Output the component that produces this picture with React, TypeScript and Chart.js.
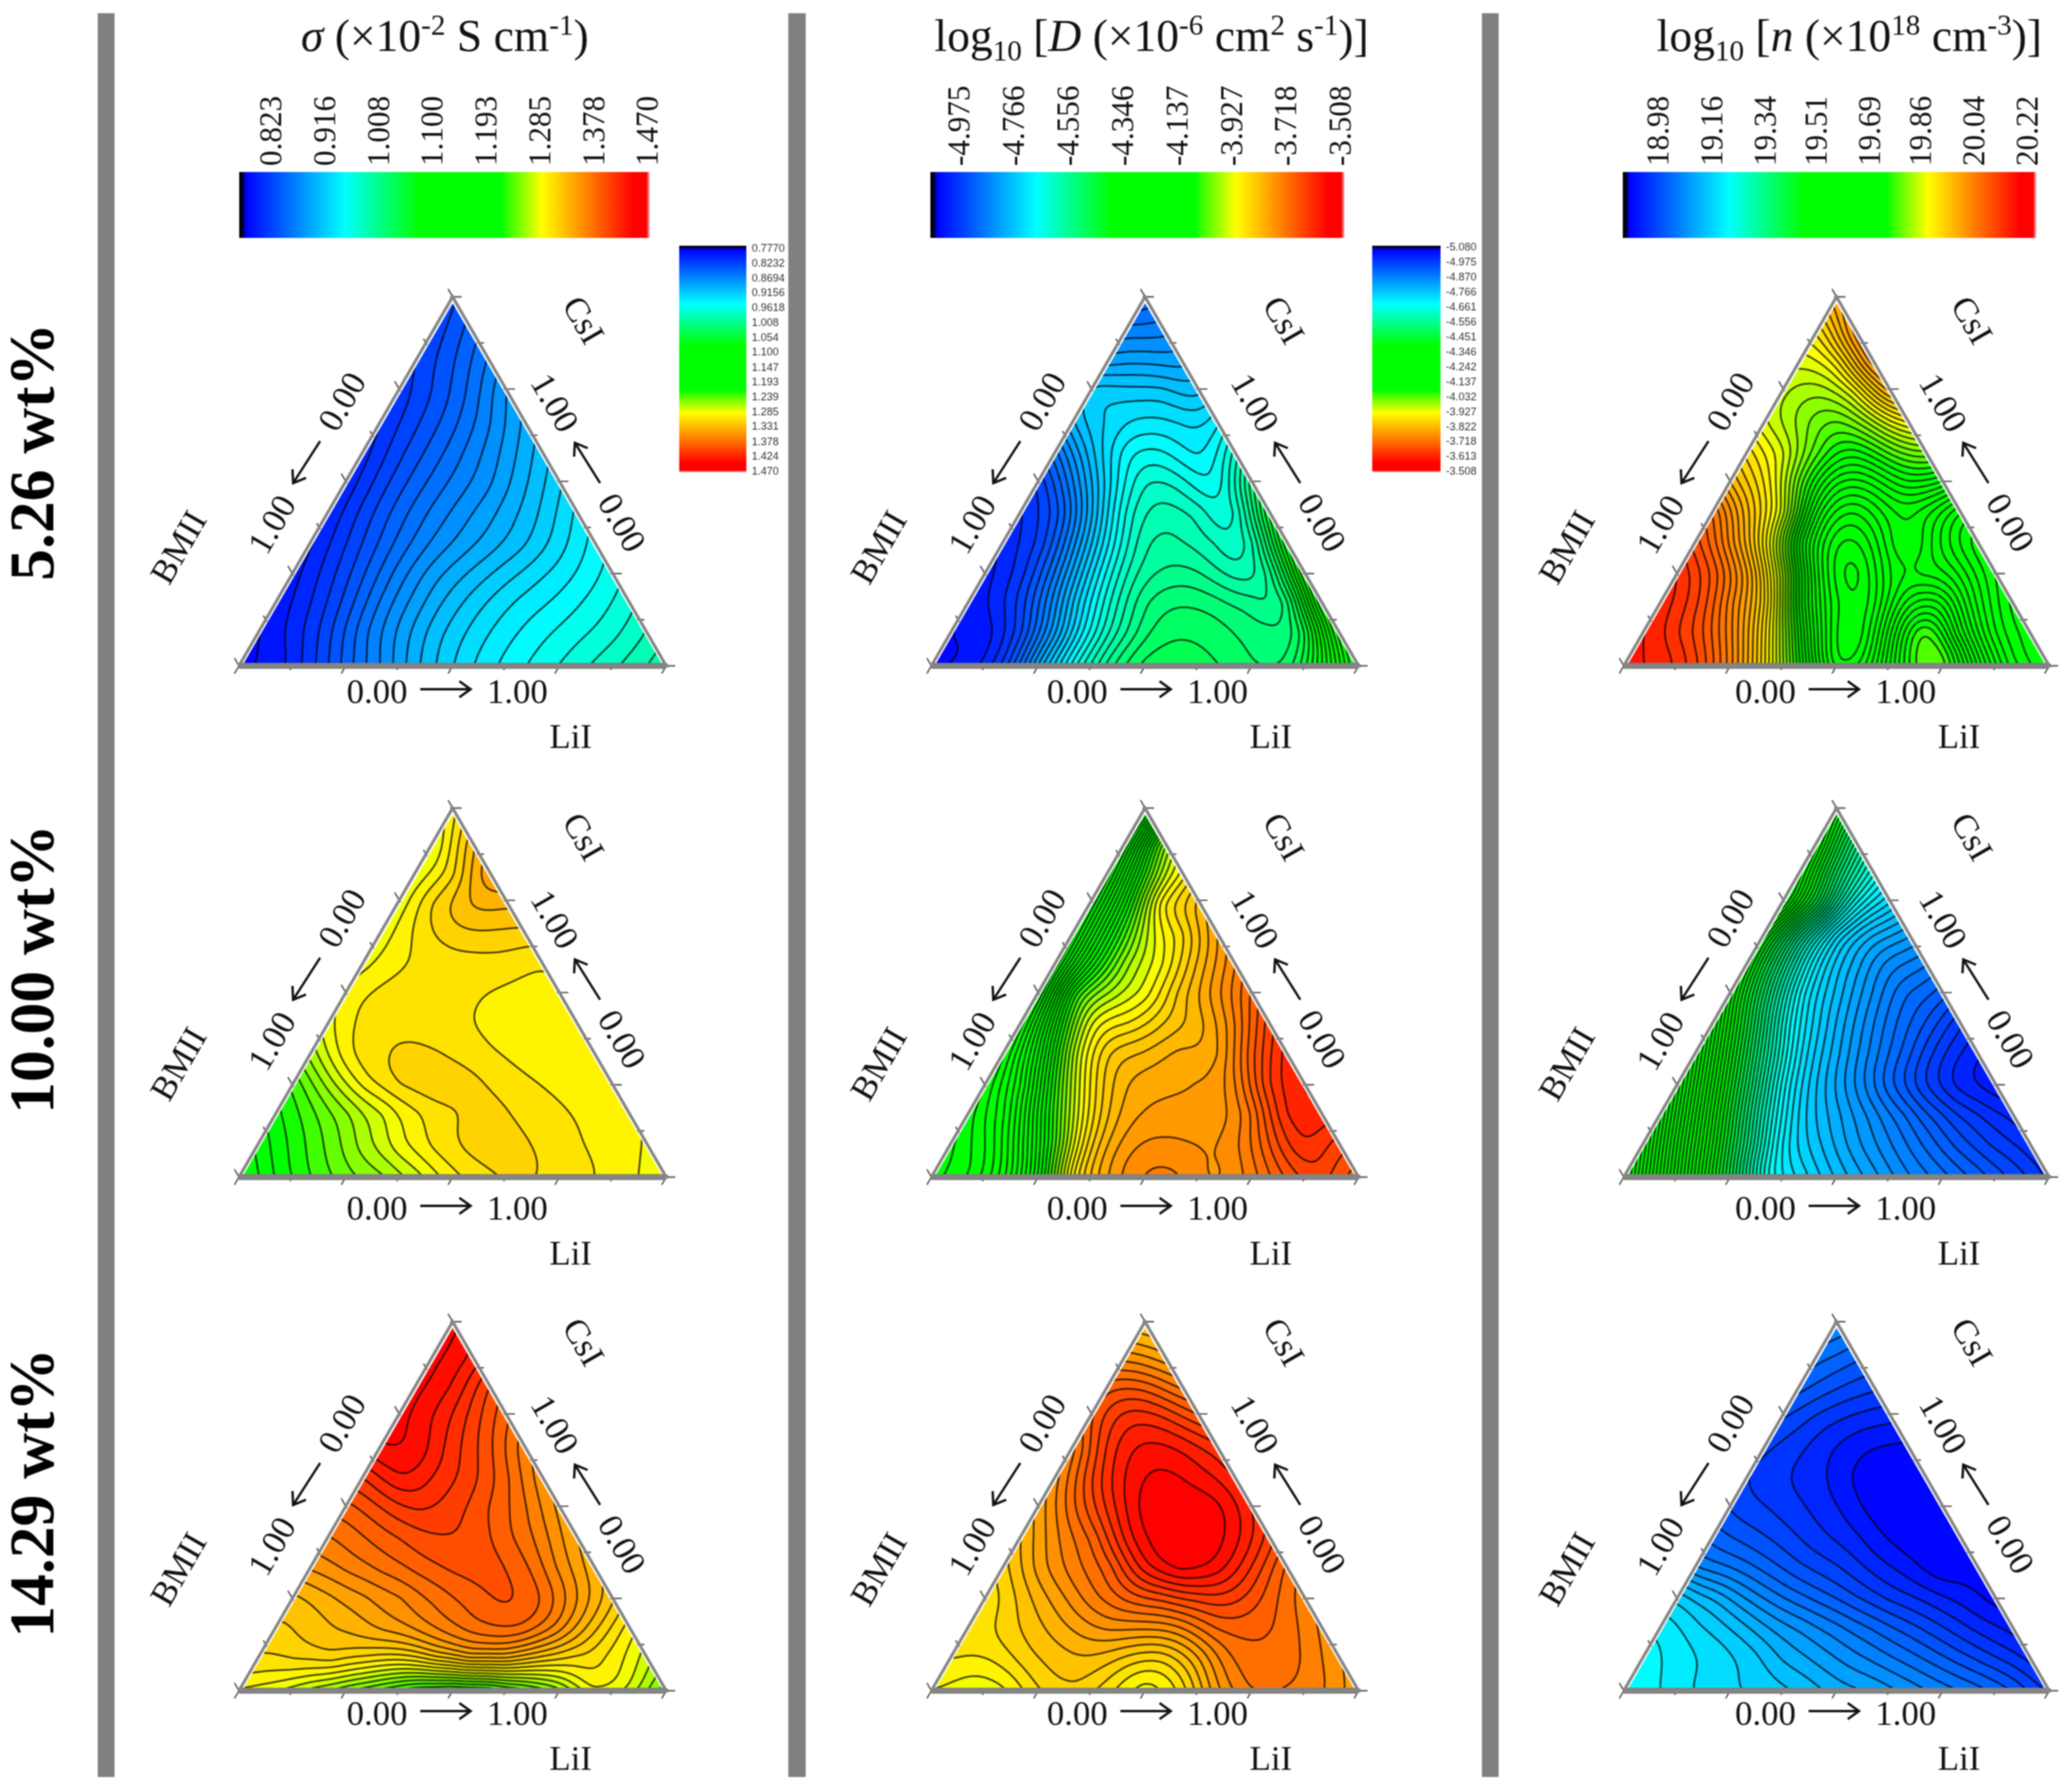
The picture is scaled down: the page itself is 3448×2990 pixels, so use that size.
import React, { useEffect, useRef } from "react";
import { Chart, registerables } from "chart.js";
Chart.register(...registerables);

// Colour-bar tick labels
const sigmaTop = ["0.823", "0.916", "1.008", "1.100", "1.193", "1.285", "1.378", "1.470"];
const diffTop = ["-4.975", "-4.766", "-4.556", "-4.346", "-4.137", "-3.927", "-3.718", "-3.508"];
const carrierTop = ["18.98", "19.16", "19.34", "19.51", "19.69", "19.86", "20.04", "20.22"];
const sigmaSide = ["0.7770", "0.8232", "0.8694", "0.9156", "0.9618", "1.008", "1.054", "1.100", "1.147", "1.193", "1.239", "1.285", "1.331", "1.378", "1.424", "1.470"];
const diffSide = ["-5.080", "-4.975", "-4.870", "-4.766", "-4.661", "-4.556", "-4.451", "-4.346", "-4.242", "-4.137", "-4.032", "-3.927", "-3.822", "-3.718", "-3.613", "-3.508"];
const rowLabels = ["5.26 wt%", "10.00 wt%", "14.29 wt%"];

// Ternary fields: each row runs from the BMII edge to the CsI/LiI edge, bottom row first.
const sigma5 = [
  [2.5, 3.8, 7, 11, 14.8, 18.6, 21.6, 24, 25.8, 27.4, 29, 30.7, 32.6],
  [3, 5.2, 8.6, 12.8, 16.4, 19.6, 22, 24, 25.6, 27, 28.4, 30.4],
  [3.5, 6, 9.5, 13.5, 16.8, 19.6, 21.8, 23.6, 25, 26.6, 28.4],
  [4, 6.8, 10.2, 13.8, 16.8, 19, 21, 22.8, 24.6, 26.6],
  [4.4, 7.4, 10.6, 13.6, 16, 18, 20, 22.4, 25],
  [4.8, 8, 11, 13.6, 15.8, 18, 20.4, 23.3],
  [5, 8.2, 11, 13.4, 15.6, 18.4, 21.3],
  [5.4, 8.4, 11, 13.6, 16.4, 19.4],
  [6, 8.6, 11.2, 14.2, 17.5],
  [6.5, 9, 12, 15.8],
  [7.5, 10, 13.2],
  [8, 10.8],
  [8.5],
];
const diff5 = [
  [2.5, 3.5, 8, 18, 27, 34, 38, 38.5, 37.8, 36.5, 36.5, 44, 55],
  [3, 4, 9, 18, 27, 33.5, 37, 37.3, 36.3, 35.6, 38, 52],
  [3.5, 6, 12, 21, 29, 34.5, 36, 35.4, 34.2, 34.8, 50],
  [4, 7, 14, 23, 30.5, 33.5, 33.5, 31.5, 33.5, 47],
  [5, 8, 16, 25, 31.5, 32, 30.5, 31, 44],
  [6, 10, 19, 28, 31, 30, 28.5, 40],
  [8, 15, 23, 28.8, 28.3, 26.5, 35],
  [13, 20, 25.5, 26.3, 24.5, 29],
  [19, 22, 23.6, 23.2, 24],
  [21, 21, 21, 20],
  [17, 17.3, 17],
  [14, 14.2],
  [11],
];
const carrier5 = [
  [94, 93, 90, 84, 75, 63, 52, 55, 64, 67, 58, 50, 47],
  [93.5, 91, 87, 80, 69, 56, 50.5, 58, 66, 59, 51, 47.5],
  [93, 90, 84, 76, 61, 52, 52, 59, 60, 53, 48],
  [92, 88, 81, 69, 55, 50, 55, 56, 54, 49.5],
  [89, 83, 74, 60, 52, 53, 58, 54, 50],
  [86, 79, 71, 58, 54, 57, 57, 53],
  [80, 75, 66, 59, 59, 62, 61],
  [76, 72, 66, 63, 66, 68],
  [72, 69, 67, 70, 74],
  [71, 70, 73, 80],
  [72.5, 75, 83],
  [76, 83],
  [81],
];
const sigma10 = [
  [59.5, 62.8, 65.5, 67.8, 69.6, 72.2, 75, 76.6, 77.2, 76.2, 75.5, 74.4, 73.2],
  [61.6, 64.5, 67.3, 70.5, 73.5, 75.8, 77.2, 77.3, 76.6, 75.6, 74.8, 73.9],
  [63.6, 66.5, 69.5, 72.5, 75.2, 76.6, 77.4, 76.5, 75.7, 75, 74.2],
  [66, 70.5, 74.6, 76.9, 77.7, 77.3, 76.2, 75.4, 74.8, 74.2],
  [70.5, 74.9, 76.6, 77.2, 76.6, 75.7, 75, 74.6, 74.4],
  [73.6, 75.8, 76.4, 76, 75.5, 74.9, 74.7, 74.6],
  [74.5, 75.8, 76.2, 75.9, 75.4, 75, 75],
  [73.6, 75.2, 75.9, 76.2, 76.2, 75.6],
  [73.3, 75.8, 77.6, 78, 77.8],
  [73.2, 77.2, 79.7, 80],
  [73, 76.5, 82],
  [72.8, 79],
  [75],
];
const diff10 = [
  [45, 47, 52, 62, 76, 82, 84.5, 84.5, 83, 85, 88.5, 90.5, 88],
  [45.5, 48.5, 56, 67, 78, 82.5, 83.5, 83.2, 84, 88, 92, 90.5],
  [46.5, 51, 61, 72, 79.5, 82, 82.3, 82.5, 85.5, 92, 93],
  [47.5, 54, 66, 76, 80.5, 81.5, 82, 84, 90.5, 93.5],
  [48.5, 58, 71, 78, 79.5, 81, 81.5, 87.5, 92.5],
  [49.5, 62, 73, 75.5, 78, 80, 84, 90],
  [50, 65, 70.5, 73.5, 78.5, 82.5, 87],
  [50.5, 62, 70, 74, 79.5, 84],
  [51, 62, 71, 76, 81.5],
  [51.5, 63, 75, 79.5],
  [52, 65, 74],
  [53, 68],
  [52],
];
const carrier10 = [
  [70, 59.4, 48.4, 37.5, 26.5, 22.6, 19.5, 17, 14.5, 12.5, 10.5, 8.5, 6.5],
  [66, 55, 44.3, 33.3, 23.8, 20, 17, 14.5, 12, 9.5, 7.5, 6],
  [62, 51, 40, 29, 21.5, 18, 15, 12, 9, 6.8, 5.2],
  [58, 47, 36, 25.5, 19.5, 15.5, 11.5, 8, 5.2, 3.8],
  [54, 43, 32, 23, 18, 14, 10.5, 7, 4.8],
  [50, 39, 27.8, 21, 16.5, 12.8, 10, 7],
  [46, 35, 24.8, 19.5, 15.5, 12.2, 10.5],
  [44, 33, 23.5, 18.5, 15, 13.5],
  [44, 33, 23.5, 19, 17],
  [48, 37.7, 26.7, 22],
  [47, 36, 28],
  [46, 35],
  [44],
];
const sigma14 = [
  [74, 73, 71, 69, 67, 65, 64.5, 65, 67, 69.5, 74, 72.5, 68],
  [76.5, 77, 77.5, 76.5, 76, 78, 80, 80, 78, 76.5, 75, 72],
  [78, 79, 80, 81.5, 83, 85, 86.5, 86.5, 83.5, 79, 75],
  [79.5, 81, 82.5, 84, 86, 87.5, 88.5, 87, 83, 79],
  [83, 84.5, 86, 87.5, 88.7, 89, 87.5, 84, 80.5],
  [85.5, 87, 88.5, 89.7, 89.5, 87.5, 85, 81.5],
  [88, 90, 91.5, 90.5, 88.5, 86, 82.5],
  [91.5, 94, 92.5, 90.5, 87.5, 83.5],
  [95.5, 95, 92, 89, 85],
  [96, 94, 91, 87.5],
  [96, 94, 90],
  [96, 94],
  [96],
];
const diff14 = [
  [74, 73, 74, 77, 78, 76, 73.5, 76, 82, 85.5, 85.5, 84.5, 82],
  [75.5, 75.5, 77.5, 79, 79.5, 78, 77.5, 81, 85.5, 86.5, 85.5, 83],
  [76, 77.5, 79.5, 81.5, 83, 83, 84, 87, 87.5, 86.5, 84],
  [76, 79, 82, 85, 87.5, 89, 90.5, 90.5, 88, 85],
  [78, 82, 85, 88, 93.5, 96, 95, 91.5, 87],
  [80, 84, 87.5, 93.5, 96.5, 96.8, 95, 91],
  [82, 87, 92, 96.2, 96.8, 96.2, 93],
  [84, 90, 94.5, 96, 95, 93],
  [85.5, 92, 94.5, 94, 92],
  [88.5, 92, 91.5, 89],
  [88, 88, 85.5],
  [83.5, 82],
  [79],
];
const carrier14 = [
  [26, 24.5, 23, 21.9, 21, 19.8, 18, 16.9, 15.3, 13.6, 12, 10, 7],
  [25.3, 23.8, 22.6, 21, 18.5, 16.8, 15, 13.3, 11.5, 9.5, 7.5, 5.5],
  [24, 22, 20, 17.5, 15.5, 13.5, 11.5, 9.5, 7.5, 5.5, 4],
  [21, 18.5, 15.5, 13, 11, 9, 7, 5.5, 4, 2.5],
  [14.5, 13, 11, 9, 7.5, 5.5, 3.8, 2, 2.2],
  [11, 9.5, 8, 6.3, 4.8, 2.8, 1.8, 2],
  [8.5, 7.3, 6, 4.5, 2.5, 1.8, 1.9],
  [7.2, 6, 4.8, 2.8, 1.8, 2],
  [7.5, 6, 4.3, 3, 2.6],
  [8.7, 6.8, 5.5, 4.8],
  [10.5, 8.8, 7.6],
  [12, 10.5],
  [14],
];
const fields = [
  [sigma5, diff5, carrier5],
  [sigma10, diff10, carrier10],
  [sigma14, diff14, carrier14],
];
const levelSteps = [
  [1.45, 1.45, 1.2],
  [1.45, 1.3, 1.1],
  [1.45, 1.45, 1.45],
];
const colourCaps = [
  [100, 100, 100],
  [100, 100, 62],
  [100, 100, 100],
];

const SERIF = '"Liberation Serif"';
const SMOOTH = 0.15;
const cmapStops: number[][] = [
  [0, 0, 0, 0], [0.9, 0, 0, 40], [1.6, 0, 0, 255], [25.7, 0, 255, 255], [44, 0, 255, 0], [64, 0, 255, 0],
  [65, 40, 255, 0], [73.7, 255, 255, 0], [96, 255, 0, 0], [99.2, 255, 0, 0], [100, 235, 215, 215],
];
function cmap(p: number) {
  if (p <= 0) return cmapStops[0].slice(1);
  for (let i = 1; i < cmapStops.length; i++) {
    const a = cmapStops[i - 1], b = cmapStops[i];
    if (p <= b[0]) {
      const t = (p - a[0]) / (b[0] - a[0]);
      return [a[1] + t * (b[1] - a[1]), a[2] + t * (b[2] - a[2]), a[3] + t * (b[3] - a[3])];
    }
  }
  return cmapStops[cmapStops.length - 1].slice(1);
}
function barGradient(ctx: any, vertical: boolean) {
  const area = ctx.chart.chartArea;
  if (!area) return "#00f";
  const g = vertical
    ? ctx.chart.ctx.createLinearGradient(0, area.top, 0, area.bottom)
    : ctx.chart.ctx.createLinearGradient(area.left, 0, area.right, 0);
  cmapStops.forEach((s) => g.addColorStop(s[0] / 100, `rgb(${s[1]},${s[2]},${s[3]})`));
  return g;
}

// Smooth surface through the lattice (thin-plate spline)
function solve(A: number[][], b: number[]) {
  const n = b.length;
  for (let c = 0; c < n; c++) {
    let p = c;
    for (let r = c + 1; r < n; r++) if (Math.abs(A[r][c]) > Math.abs(A[p][c])) p = r;
    [A[c], A[p]] = [A[p], A[c]];
    [b[c], b[p]] = [b[p], b[c]];
    for (let r = c + 1; r < n; r++) {
      const f = A[r][c] / A[c][c];
      if (f === 0) continue;
      for (let k = c; k < n; k++) A[r][k] -= f * A[c][k];
      b[r] -= f * b[c];
    }
  }
  const x = new Array(n).fill(0);
  for (let r = n - 1; r >= 0; r--) {
    let s = b[r];
    for (let k = r + 1; k < n; k++) s -= A[r][k] * x[k];
    x[r] = s / A[r][r];
  }
  return x;
}
function phi(d2: number) {
  return d2 < 1e-9 ? 0 : 0.5 * d2 * Math.log(d2);
}
function fitSurface(pts: any[]) {
  const X = pts.map((p) => p.x * 12), Y = pts.map((p) => p.y * 12 * 0.866);
  const n = pts.length, m = n + 3;
  const A: number[][] = [];
  for (let i = 0; i < m; i++) A.push(new Array(m).fill(0));
  const b = new Array(m).fill(0);
  for (let i = 0; i < n; i++) {
    for (let j = 0; j < n; j++) {
      const dx = X[i] - X[j], dy = Y[i] - Y[j];
      A[i][j] = phi(dx * dx + dy * dy);
    }
    A[i][i] = SMOOTH;
    A[i][n] = A[n][i] = 1;
    A[i][n + 1] = A[n + 1][i] = X[i];
    A[i][n + 2] = A[n + 2][i] = Y[i];
    b[i] = pts[i].v;
  }
  const w = solve(A, b);
  return (ux: number, uy: number) => {
    const x = ux * 12, y = uy * 12 * 0.866;
    let s = w[n] + w[n + 1] * x + w[n + 2] * y;
    for (let i = 0; i < n; i++) {
      const dx = x - X[i], dy = y - Y[i];
      s += w[i] * phi(dx * dx + dy * dy);
    }
    return s;
  };
}

function drawField(chart: any, pts: any[], LEVEL_STEP: number, cap: number) {
  const { ctx, chartArea: a } = chart;
  const sx = chart.scales.x, sy = chart.scales.y;
  const step = 3;
  const W = Math.ceil(a.right - a.left), H = Math.ceil(a.bottom - a.top);
  const nx = Math.ceil(W / step) + 2, ny = Math.ceil(H / step) + 2;
  const f = new Float32Array(nx * ny);
  const surf = fitSurface(pts);
  for (let j = 0; j < ny; j++) {
    const uy = sy.getValueForPixel(a.top + j * step);
    for (let i = 0; i < nx; i++) {
      f[j * nx + i] = surf(sx.getValueForPixel(a.left + i * step), uy);
    }
  }
  const off = document.createElement("canvas");
  off.width = W; off.height = H;
  const oc = off.getContext("2d")!;
  const img = oc.createImageData(W, H);
  for (let py = 0; py < H; py++) {
    const jf = py / step, j = Math.floor(jf), ty = jf - j;
    for (let px = 0; px < W; px++) {
      const xf = px / step, i = Math.floor(xf), tx = xf - i;
      const q = j * nx + i;
      const v = (f[q] * (1 - tx) + f[q + 1] * tx) * (1 - ty) + (f[q + nx] * (1 - tx) + f[q + nx + 1] * tx) * ty;
      const band = (Math.floor(v / LEVEL_STEP) + 0.5) * LEVEL_STEP;
      const c = cmap(Math.min(band, cap));
      const o = (py * W + px) * 4;
      img.data[o] = c[0]; img.data[o + 1] = c[1]; img.data[o + 2] = c[2]; img.data[o + 3] = 255;
    }
  }
  oc.putImageData(img, 0, 0);
  ctx.save();
  ctx.beginPath();
  ctx.moveTo(sx.getPixelForValue(0), sy.getPixelForValue(0));
  ctx.lineTo(sx.getPixelForValue(1), sy.getPixelForValue(0));
  ctx.lineTo(sx.getPixelForValue(0.5), sy.getPixelForValue(1));
  ctx.closePath();
  ctx.clip();
  ctx.drawImage(off, a.left, a.top);
  ctx.beginPath();
  for (let j = 0; j < ny - 1; j++) {
    for (let i = 0; i < nx - 1; i++) {
      const q = j * nx + i;
      const c00 = f[q], c10 = f[q + 1], c01 = f[q + nx], c11 = f[q + nx + 1];
      const mn = Math.min(c00, c10, c01, c11), mx = Math.max(c00, c10, c01, c11);
      for (let k = Math.ceil(mn / LEVEL_STEP); k * LEVEL_STEP <= mx; k++) {
        const L = k * LEVEL_STEP + 1e-4;
        const x0 = a.left + i * step, y0 = a.top + j * step;
        const cross: number[][] = [];
        if (c00 < L !== c10 < L) cross.push([x0 + (step * (L - c00)) / (c10 - c00), y0]);
        if (c10 < L !== c11 < L) cross.push([x0 + step, y0 + (step * (L - c10)) / (c11 - c10)]);
        if (c01 < L !== c11 < L) cross.push([x0 + (step * (L - c01)) / (c11 - c01), y0 + step]);
        if (c00 < L !== c01 < L) cross.push([x0, y0 + (step * (L - c00)) / (c01 - c00)]);
        for (let s = 0; s + 1 < cross.length; s += 2) {
          ctx.moveTo(cross[s][0], cross[s][1]);
          ctx.lineTo(cross[s + 1][0], cross[s + 1][1]);
        }
      }
    }
  }
  ctx.strokeStyle = "rgba(0,0,0,0.72)";
  ctx.lineWidth = 3;
  ctx.lineCap = "round";
  ctx.stroke();
  ctx.restore();
}

function text(ctx: any, s: string, x: number, y: number, rot: number, size: number) {
  ctx.save();
  ctx.translate(x, y);
  ctx.rotate(rot);
  ctx.font = `${size}px ${SERIF}`;
  ctx.fillStyle = "#111";
  ctx.textAlign = "center";
  ctx.textBaseline = "middle";
  ctx.fillText(s, 0, 0);
  ctx.restore();
}
function arrow(ctx: any, x1: number, y1: number, x2: number, y2: number) {
  const ang = Math.atan2(y2 - y1, x2 - x1);
  ctx.save();
  ctx.strokeStyle = "#111";
  ctx.lineWidth = 4;
  ctx.lineCap = "butt";
  ctx.beginPath();
  ctx.moveTo(x1, y1);
  ctx.lineTo(x2, y2);
  ctx.moveTo(x2 - 23 * Math.cos(ang - 0.62), y2 - 23 * Math.sin(ang - 0.62));
  ctx.lineTo(x2, y2);
  ctx.lineTo(x2 - 23 * Math.cos(ang + 0.62), y2 - 23 * Math.sin(ang + 0.62));
  ctx.stroke();
  ctx.restore();
}

const colL = [407, 1562, 2717];
const colR = [1103, 2258, 3410];
const rowBase = [1106, 1959, 2816];
const textDx = [0, 13, 6];
const textDy = [0, 9, -5];
const TRI_H = 600;
const PAD = { left: 170, right: 170, top: 70, bottom: 170 };

function tickSegments(w: number, h: number) {
  const out: any[] = [];
  const fx = 0.012, fy = 0.0083, ty = 1.018;
  const V = [[-fx, -fy], [1 + fx, -fy], [0.5, ty]];
  const dirs = [[-0.5, -0.866], [1, 0], [-0.5, 0.866]];
  for (let s = 0; s < 3; s++) {
    const A = V[s], B = V[(s + 1) % 3], d = dirs[s];
    for (let i = 0; i <= 8; i++) {
      const t = i / 8;
      const x = A[0] + (B[0] - A[0]) * t, y = A[1] + (B[1] - A[1]) * t;
      const len = i % 2 === 0 ? 15 : 8;
      out.push({ x: x - (d[0] * 4) / w, y: y - (d[1] * 4) / h });
      out.push({ x: x + (d[0] * len) / w, y: y + (d[1] * len) / h });
      out.push({ x: null, y: null });
    }
  }
  return out;
}

function panelConfig(row: number, col: number) {
  const rows = fields[row][col];
  const pts: any[] = [];
  rows.forEach((vals: number[], r: number) =>
    vals.forEach((v: number, i: number) => pts.push({ x: (i + r / 2) / 12, y: r / 12, v }))
  );
  const w = colR[col] - colL[col];
  return {
    type: "scatter",
    data: {
      datasets: [
        { data: pts, pointRadius: 0, showLine: false },
        { data: [{ x: -0.012, y: -0.0083 }, { x: 1.012, y: -0.0083 }, { x: 0.5, y: 1.018 }, { x: -0.012, y: -0.0083 }], showLine: true, pointRadius: 0, borderColor: "#858585", borderWidth: 5, clip: false },
        { data: [{ x: -0.012, y: -0.0083 }, { x: 1.012, y: -0.0083 }], showLine: true, pointRadius: 0, borderColor: "#808080", borderWidth: 10, clip: false },
        { data: tickSegments(w, TRI_H), showLine: true, spanGaps: false, pointRadius: 0, borderColor: "#555", borderWidth: 2.4, clip: false },
      ],
    },
    options: {
      animation: false,
      responsive: false,
      devicePixelRatio: 1,
      layout: { padding: PAD },
      plugins: { legend: { display: false }, tooltip: { enabled: false } },
      scales: {
        x: { type: "linear", min: 0, max: 1, display: false },
        y: { type: "linear", min: 0, max: 1, display: false },
      },
    },
    plugins: [
      {
        id: "ternary",
        beforeDatasetsDraw(chart: any) {
          drawField(chart, pts, levelSteps[row][col], colourCaps[row][col]);
        },
        afterDatasetsDraw(chart: any) {
          const c = chart.ctx, a = chart.chartArea;
          const ox = a.left + textDx[col], oy = a.bottom + textDy[row];
          const F = 58, up = -Math.PI / 3, dn = Math.PI / 3;
          text(c, "0.00", ox + 222, oy + 52, 0, F);
          arrow(c, ox + 294, oy + 44, ox + 378, oy + 44);
          text(c, "1.00", ox + 456, oy + 52, 0, F);
          text(c, "LiI", ox + 545, oy + 127, 0, F);
          text(c, "BMII", ox - 106, oy - 191, up, F);
          text(c, "0.00", ox + 167, oy - 434, up, F);
          arrow(c, ox + 127, oy - 370, ox + 82, oy - 300);
          text(c, "1.00", ox + 50, oy - 229, up, F);
          text(c, "CsI", ox + 563, oy - 570, dn, F);
          text(c, "1.00", ox + 515, oy - 432, dn, F);
          arrow(c, ox + 594, oy - 300, ox + 552, oy - 367);
          text(c, "0.00", ox + 627, oy - 232, dn, F);
        },
      },
    ],
  };
}

function topBarConfig(labels: string[], min: number, max: number) {
  return {
    type: "bar",
    data: {
      labels: ["scale"],
      datasets: [{ data: [[min, max]], backgroundColor: (c: any) => barGradient(c, false), barPercentage: 1, categoryPercentage: 1, borderWidth: 0 }],
    },
    options: {
      indexAxis: "y",
      animation: false,
      responsive: false,
      devicePixelRatio: 1,
      layout: { padding: { left: 40, right: 40, top: 0, bottom: 0 } },
      plugins: { legend: { display: false }, tooltip: { enabled: false } },
      scales: {
        x: {
          type: "linear",
          position: "top",
          min,
          max,
          afterBuildTicks: (s: any) => { s.ticks = labels.map((l) => ({ value: Number(l) })); },
          afterFit: (s: any) => { s.height = 147; },
          grid: { display: false, drawTicks: false },
          border: { display: false },
          ticks: {
            autoSkip: false,
            minRotation: 90,
            maxRotation: 90,
            padding: 10,
            labelOffset: 66,
            color: "#111",
            font: { family: SERIF, size: 52 },
            callback: (_v: any, i: number) => labels[i],
          },
        },
        y: { display: false },
      },
    },
  };
}

function sideBarConfig(labels: string[], min: number, max: number) {
  return {
    type: "bar",
    data: {
      labels: ["scale"],
      datasets: [{ data: [[min, max]], backgroundColor: (c: any) => barGradient(c, true), barPercentage: 1, categoryPercentage: 1, borderWidth: 0 }],
    },
    options: {
      animation: false,
      responsive: false,
      devicePixelRatio: 1,
      layout: { padding: { left: 0, right: 0, top: 20, bottom: 20 } },
      plugins: { legend: { display: false }, tooltip: { enabled: false } },
      scales: {
        y: {
          type: "linear",
          position: "right",
          reverse: true,
          min,
          max,
          afterBuildTicks: (s: any) => { s.ticks = labels.map((l) => ({ value: Number(l) })); },
          afterFit: (s: any) => { s.width = 76; },
          grid: { display: false, drawTicks: false },
          border: { display: false },
          ticks: {
            autoSkip: false,
            padding: 9,
            color: "#333",
            font: { family: '"Liberation Sans"', size: 18 },
            callback: (_v: any, i: number) => labels[i],
          },
        },
        x: { display: false },
      },
    },
  };
}

type Seg = { t: string; i?: boolean; sup?: boolean; sub?: boolean };
const titles: { cx: number; segs: Seg[] }[] = [
  { cx: 742, segs: [{ t: "σ", i: true }, { t: " (×10" }, { t: "-2", sup: true }, { t: " S cm" }, { t: "-1", sup: true }, { t: ")" }] },
  { cx: 1921, segs: [{ t: "log" }, { t: "10", sub: true }, { t: " [" }, { t: "D", i: true }, { t: " (×10" }, { t: "-6", sup: true }, { t: " cm" }, { t: "2", sup: true }, { t: " s" }, { t: "-1", sup: true }, { t: ")]" }] },
  { cx: 3085, segs: [{ t: "log" }, { t: "10", sub: true }, { t: " [" }, { t: "n", i: true }, { t: " (×10" }, { t: "18", sup: true }, { t: " cm" }, { t: "-3", sup: true }, { t: ")]" }] },
];
const gutters = [[163, 191], [1315, 1344], [2472, 2500]];
const rowLabelY = [754, 1617, 2491];

function pageConfig() {
  return {
    type: "scatter",
    data: { datasets: [{ data: [] }] },
    options: {
      animation: false,
      responsive: false,
      devicePixelRatio: 1,
      plugins: { legend: { display: false }, tooltip: { enabled: false } },
      layout: { padding: 0 },
      scales: {
        x: { type: "linear", min: 0, max: 3448, display: false },
        y: { type: "linear", min: 0, max: 2990, reverse: true, display: false },
      },
    },
    plugins: [
      {
        id: "page",
        afterDraw(chart: any) {
          const c = chart.ctx, sx = chart.scales.x, sy = chart.scales.y;
          c.save();
          c.fillStyle = "#808080";
          gutters.forEach(([a, b]) => c.fillRect(sx.getPixelForValue(a), sy.getPixelForValue(22), b - a, 2943));
          c.fillStyle = "#111";
          const size = 76;
          const fontFor = (s: Seg) => {
            const sz = s.sup || s.sub ? size * 0.64 : size;
            return `${s.i ? "italic " : ""}${sz}px ${SERIF}`;
          };
          titles.forEach((tt) => {
            let total = 0;
            tt.segs.forEach((s) => { c.font = fontFor(s); total += c.measureText(s.t).width; });
            let x = sx.getPixelForValue(tt.cx) - total / 2;
            c.textBaseline = "alphabetic";
            c.textAlign = "left";
            tt.segs.forEach((s) => {
              c.font = fontFor(s);
              const dy = s.sup ? -27 : s.sub ? 16 : 0;
              c.fillText(s.t, x, sy.getPixelForValue(85) + dy);
              x += c.measureText(s.t).width;
            });
          });
          rowLabels.forEach((l, i) => {
            c.save();
            c.translate(sx.getPixelForValue(62), sy.getPixelForValue(rowLabelY[i]));
            c.rotate(-Math.PI / 2);
            c.font = `bold 106px ${SERIF}`;
            c.fillStyle = "#000";
            c.textAlign = "center";
            c.textBaseline = "middle";
            c.fillText(l, 0, 0);
            c.restore();
          });
          c.restore();
        },
      },
    ],
  };
}

function Plot({ x, y, w, h, make }: { x: number; y: number; w: number; h: number; make: () => any }) {
  const ref = useRef<HTMLCanvasElement>(null);
  useEffect(() => {
    const chart = new Chart(ref.current as any, make());
    return () => chart.destroy();
  }, []);
  return <canvas ref={ref} width={w} height={h} style={{ position: "absolute", left: x, top: y, width: w, height: h }} />;
}

export default function App() {
  const panels: any[] = [];
  fields.forEach((cols, r) =>
    cols.forEach((_f, c) => {
      panels.push(
        <Plot
          key={`p${r}${c}`}
          x={colL[c] - PAD.left}
          y={rowBase[r] - TRI_H - PAD.top}
          w={colR[c] - colL[c] + PAD.left + PAD.right}
          h={TRI_H + PAD.top + PAD.bottom}
          make={() => panelConfig(r, c)}
        />
      );
    })
  );
  return (
    <div style={{ position: "absolute", left: 0, top: 0, width: 3448, height: 2990, background: "#fff", overflow: "hidden", filter: "blur(1px)" }}>
      <Plot x={0} y={0} w={3448} h={2990} make={pageConfig} />
      <Plot x={399 - 40} y={140} w={685 + 80} h={257} make={() => topBarConfig(sigmaTop, 0.7688, 1.4741)} />
      <Plot x={1552 - 40} y={140} w={691 + 80} h={257} make={() => topBarConfig(diffTop, -5.0857, -3.4919)} />
      <Plot x={2707 - 40} y={140} w={690 + 80} h={257} make={() => topBarConfig(carrierTop, 18.861, 20.25)} />
      <Plot x={1133} y={390} w={188} h={418} make={() => sideBarConfig(sigmaSide, 0.7677, 1.4719)} />
      <Plot x={2289} y={390} w={190} h={418} make={() => sideBarConfig(diffSide, -5.092, -3.506)} />
      {panels}
    </div>
  );
}
